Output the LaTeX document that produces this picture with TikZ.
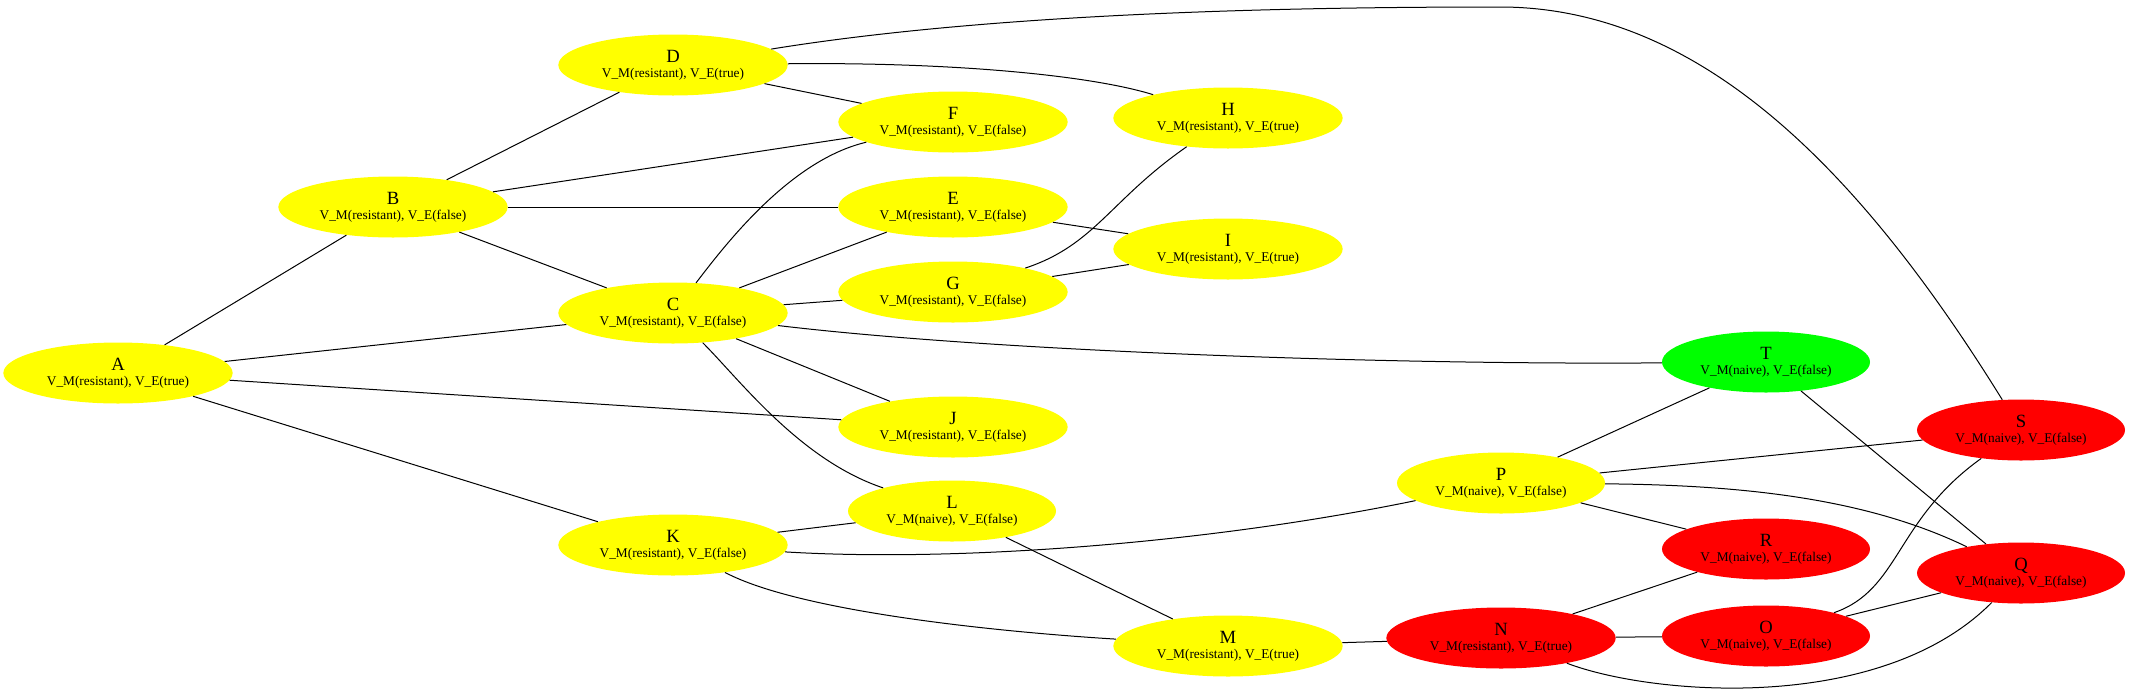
\documentclass[tikz,border=0pt]{standalone}
\usepackage{fontspec}
\setmainfont{Liberation Serif}
\usetikzlibrary{shapes.geometric}
\newcommand{\nodetext}[2]{{\fontsize{14}{14}\selectfont #1}\\[-1pt]{\fontsize{10}{11}\selectfont #2}}
\newcommand{\rt}{V\_M(resistant), V\_E(true)}
\newcommand{\rf}{V\_M(resistant), V\_E(false)}
\newcommand{\nf}{V\_M(naive), V\_E(false)}
\begin{document}
\begin{tikzpicture}[x=0.75pt,y=-0.75pt,
  gn/.style={ellipse,draw=none,inner sep=0pt,align=center,minimum height=45.75pt},
  wide/.style={gn,minimum width=172pt},
  narrow/.style={gn,minimum width=156pt},
  yel/.style={fill={rgb,255:red,255;green,255;blue,0}},
  rd/.style={fill={rgb,255:red,255;green,0;blue,0}},
  grn/.style={fill={rgb,255:red,0;green,255;blue,0}},
  edge/.style={draw=black,line width=0.75pt}]
\useasboundingbox (0,0) rectangle (2130,697);
\node[wide,yel] (A) at (118,373) {\nodetext{A}{\rt}};
\node[wide,yel] (B) at (393,207) {\nodetext{B}{\rf}};
\node[wide,yel] (D) at (673,65) {\nodetext{D}{\rt}};
\node[wide,yel] (C) at (673,313) {\nodetext{C}{\rf}};
\node[wide,yel] (K) at (673,545) {\nodetext{K}{\rf}};
\node[wide,yel] (F) at (953,122) {\nodetext{F}{\rf}};
\node[wide,yel] (E) at (953,207) {\nodetext{E}{\rf}};
\node[wide,yel] (G) at (953,292) {\nodetext{G}{\rf}};
\node[wide,yel] (J) at (953,427) {\nodetext{J}{\rf}};
\node[narrow,yel] (L) at (952,511) {\nodetext{L}{\nf}};
\node[wide,yel] (H) at (1228,118) {\nodetext{H}{\rt}};
\node[wide,yel] (I) at (1228,249) {\nodetext{I}{\rt}};
\node[wide,yel] (M) at (1228,646) {\nodetext{M}{\rt}};
\node[narrow,yel] (P) at (1501,483) {\nodetext{P}{\nf}};
\node[wide,rd] (N) at (1501,638) {\nodetext{N}{\rt}};
\node[narrow,grn] (T) at (1766,362) {\nodetext{T}{\nf}};
\node[narrow,rd] (R) at (1766,549) {\nodetext{R}{\nf}};
\node[narrow,rd] (O) at (1766,636) {\nodetext{O}{\nf}};
\node[narrow,rd] (S) at (2021,430) {\nodetext{S}{\nf}};
\node[narrow,rd] (Q) at (2021,573) {\nodetext{Q}{\nf}};
\begin{scope}[on background layer/.style={}]
\path[edge] (A) -- (B);
\path[edge] (A) -- (C);
\path[edge] (A) -- (J);
\path[edge] (A) -- (K);
\path[edge] (B) -- (D);
\path[edge] (B) -- (F);
\path[edge] (B) -- (E);
\path[edge] (B) -- (C);
\path[edge] (D) -- (F);
\path[edge] (D) .. controls (950,62) and (1090,75) .. (H);
\path[edge] (D) .. controls (1000,12) and (1300,7) .. (1500,7) .. controls (1700,7) and (1860,170) .. (S);
\path[edge] (C) .. controls (725,245) and (790,160) .. (F);
\path[edge] (C) -- (E);
\path[edge] (C) -- (G);
\path[edge] (C) .. controls (1000,352) and (1400,365) .. (T);
\path[edge] (C) -- (J);
\path[edge] (C) .. controls (740,380) and (800,460) .. (L);
\path[edge] (E) -- (I);
\path[edge] (G) -- (I);
\path[edge] (G) .. controls (1095,245) and (1110,200) .. (H);
\path[edge] (K) -- (L);
\path[edge] (K) .. controls (950,562) and (1200,545) .. (P);
\path[edge] (K) .. controls (800,612) and (1000,632) .. (M);
\path[edge] (L) -- (M);
\path[edge] (M) -- (N);
\path[edge] (P) -- (T);
\path[edge] (P) -- (S);
\path[edge] (P) .. controls (1750,485) and (1870,500) .. (Q);
\path[edge] (P) -- (R);
\path[edge] (T) -- (Q);
\path[edge] (N) -- (R);
\path[edge] (N) -- (O);
\path[edge] (N) .. controls (1650,695) and (1880,715) .. (Q);
\path[edge] (O) .. controls (1900,590) and (1895,520) .. (S);
\path[edge] (O) -- (Q);
\end{scope}
\end{tikzpicture}
\end{document}
